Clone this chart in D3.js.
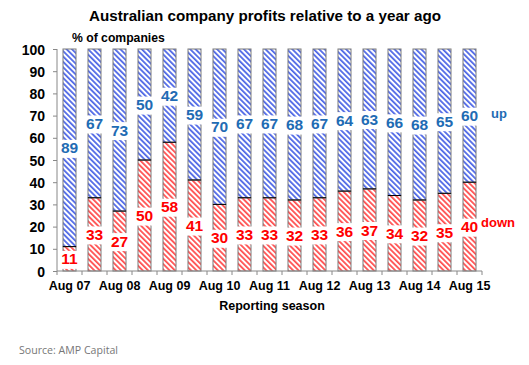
<!DOCTYPE html>
<html><head><meta charset="utf-8">
<script src="https://cdn.jsdelivr.net/npm/d3@7"></script>
<style>
html,body{margin:0;padding:0;background:#fff;}
svg{display:block;}
</style></head>
<body>
<svg id="chart" width="529" height="365"></svg>
<script>
const seasons = ["Aug 07","Feb 08","Aug 08","Feb 09","Aug 09","Feb 10","Aug 10","Feb 11","Aug 11","Feb 12","Aug 12","Feb 13","Aug 13","Feb 14","Aug 14","Feb 15","Aug 15"];
const downValues = [11,33,27,50,58,41,30,33,33,32,33,36,37,34,32,35,40];
const upValues   = [89,67,73,50,42,59,70,67,67,68,67,64,63,66,68,65,60];
const yTicks = [0,10,20,30,40,50,60,70,80,90,100];
const xTickLabels = ["Aug 07","Aug 08","Aug 09","Aug 10","Aug 11","Aug 12","Aug 13","Aug 14","Aug 15"];

const FONT = "'Liberation Sans', Arial, Helvetica, sans-serif";
const BLUE = "#1f6cb4", RED = "#ff0000";
const svg = d3.select("#chart");

const defs = svg.append("defs");
function hatch(id, color){
  const p = defs.append("pattern").attr("id", id).attr("patternUnits","userSpaceOnUse")
    .attr("width", 3.8).attr("height", 10).attr("patternTransform","rotate(-45)");
  p.append("rect").attr("width",3.8).attr("height",10).attr("fill","#fff");
  p.append("line").attr("x1",0.9).attr("x2",0.9).attr("y1",0).attr("y2",10)
    .attr("stroke", color).attr("stroke-width",1.4);
}
hatch("hBlue", "#1f3fe0");
hatch("hRed", "#ff2020");

const x = d3.scaleBand().domain(seasons).range([57, 482]).paddingInner(0.48).paddingOuter(0.24);
const y = d3.scaleLinear().domain([0,100]).range([271, 49]);

// title
svg.append("text").attr("x", 265).attr("y", 21).attr("text-anchor","middle")
  .attr("font-family", FONT).attr("font-weight","bold").attr("font-size", 15.2)
  .text("Australian company profits relative to a year ago");
svg.append("text").attr("x", 72).attr("y", 42)
  .attr("font-family", FONT).attr("font-weight","bold").attr("font-size", 12.2)
  .text("% of companies");

// y axis
const yAxis = d3.axisLeft(y).tickValues(yTicks).tickSize(4).tickPadding(8);
const gy = svg.append("g").attr("transform","translate(57,0)").call(yAxis);
gy.select(".domain").attr("stroke","#888").attr("d", `M0,${y(100)}V${y(0)}`);
gy.selectAll(".tick line").attr("stroke","#888");
gy.selectAll(".tick text").attr("font-family", FONT).attr("font-weight","bold")
  .attr("font-size", 14).attr("fill","#000").attr("dy","0.36em");

// bars
const data = seasons.map((s,i)=>({s, down: downValues[i], up: upValues[i]}));
const bars = svg.append("g");
bars.selectAll("rect.down").data(data).join("rect").attr("class","down")
  .attr("x", d=>x(d.s)).attr("width", x.bandwidth())
  .attr("y", d=>y(d.down)).attr("height", d=>y(0)-y(d.down))
  .attr("fill","url(#hRed)").attr("stroke","#7a7a7a").attr("stroke-width",1);
bars.selectAll("rect.up").data(data).join("rect").attr("class","up")
  .attr("x", d=>x(d.s)).attr("width", x.bandwidth())
  .attr("y", d=>y(d.down+d.up)).attr("height", d=>y(d.down)-y(d.down+d.up))
  .attr("fill","url(#hBlue)").attr("stroke","#7a7a7a").attr("stroke-width",1);
bars.selectAll("line.sep").data(data).join("line").attr("class","sep")
  .attr("x1", d=>x(d.s)).attr("x2", d=>x(d.s)+x.bandwidth())
  .attr("y1", d=>y(d.down)).attr("y2", d=>y(d.down))
  .attr("stroke","#000").attr("stroke-width",1);

// x axis
const step = x.step();
const gx = svg.append("g").attr("transform",`translate(0,${y(0)})`);
gx.append("line").attr("x1",57).attr("x2",482).attr("y1",0).attr("y2",0).attr("stroke","#888");
gx.selectAll("line.t").data(d3.range(seasons.length+1)).join("line").attr("class","t")
  .attr("x1", i=>57+i*step).attr("x2", i=>57+i*step).attr("y1",0).attr("y2",4).attr("stroke","#888");
gx.selectAll("text").data(xTickLabels).join("text")
  .attr("x", d=>x(d)+x.bandwidth()/2).attr("y", 19).attr("text-anchor","middle")
  .attr("font-family", FONT).attr("font-weight","bold").attr("font-size", 12.5).text(d=>d);
svg.append("text").attr("x", 272).attr("y", 310).attr("text-anchor","middle")
  .attr("font-family", FONT).attr("font-weight","bold").attr("font-size", 12.5)
  .text("Reporting season");

// value labels with white backgrounds
function addLabel(g, cx, cy, txt, color){
  const t = g.append("text").attr("x", cx).attr("y", cy).attr("dy","0.36em")
    .attr("text-anchor","middle").attr("font-family", FONT).attr("font-weight","bold")
    .attr("font-size", 15.5).attr("fill", color).text(txt);
  const b = t.node().getBBox();
  g.insert("rect", () => t.node()).attr("x", b.x-1).attr("y", b.y+0.5).attr("width", b.width+2)
    .attr("height", b.height+1).attr("fill","#fff");
}
const labels = svg.append("g");
data.forEach(d=>{
  const cx = x(d.s)+x.bandwidth()/2;
  addLabel(labels, cx, y(d.down/2), d.down, RED);
  addLabel(labels, cx, y(d.down + d.up/2), d.up, BLUE);
});

// series annotations
svg.append("text").attr("x", 491).attr("y", y(71)).attr("dy","0.36em")
  .attr("font-family", FONT).attr("font-weight","bold").attr("font-size", 13).attr("fill", BLUE).text("up");
svg.append("text").attr("x", 481).attr("y", y(22)).attr("dy","0.36em")
  .attr("font-family", FONT).attr("font-weight","bold").attr("font-size", 13).attr("fill", RED).text("down");

// source
svg.append("text").attr("x", 19).attr("y", 354)
  .attr("font-family", "'Open Sans', sans-serif").attr("font-size", 10.6).attr("fill","#777")
  .text("Source: AMP Capital");
</script>
</body></html>
